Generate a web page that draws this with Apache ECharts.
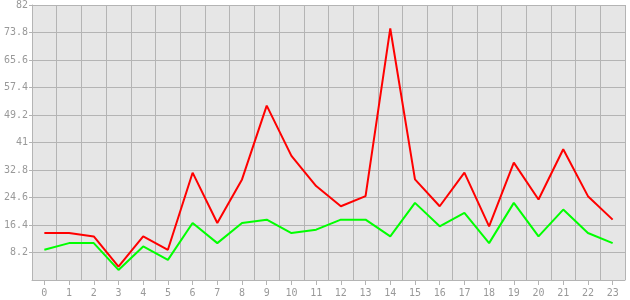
<!DOCTYPE html>
<html>
<head>
<meta charset="utf-8">
<script src="https://cdn.jsdelivr.net/npm/echarts@6/dist/echarts.min.js"></script>
<style>
html,body{margin:0;padding:0;background:#fff;}
#c{width:630px;height:300px;}
</style>
</head>
<body>
<div id="c"></div>
<script>
var categories = ['0','1','2','3','4','5','6','7','8','9','10','11','12','13','14','15','16','17','18','19','20','21','22','23'];
var redValues = [14,14,13,4,13,9,32,17,30,52,37,28,22,25,75,30,22,32,16,35,24,39,25,18];
var greenValues = [9,11,11,3,10,6,17,11,17,18,14,15,18,18,13,23,16,20,11,23,13,21,14,11];
var yMin = 0, yMax = 82, yStep = 8.2;

var chart = echarts.init(document.getElementById('c'), null, {renderer:'canvas'});
var labelStyle = {color:'#999999', fontFamily:'DejaVu Sans Mono', fontSize:10};
chart.setOption({
  animation:false,
  backgroundColor:'#ffffff',
  grid:{left:32, right:5, top:5, bottom:20, show:true, backgroundColor:'#e6e6e6', borderWidth:0},
  xAxis:{
    type:'category', data:categories, boundaryGap:true,
    axisLine:{show:true, lineStyle:{color:'#b4b4b4', width:1}},
    axisTick:{show:true, alignWithLabel:true, length:5, lineStyle:{color:'#b4b4b4'}},
    axisLabel:Object.assign({margin:8, interval:0}, labelStyle),
    splitLine:{show:true, interval:0, lineStyle:{color:'#b4b4b4', width:1}}
  },
  yAxis:{
    type:'value', min:yMin, max:yMax, interval:yStep,
    axisLine:{show:true, lineStyle:{color:'#b4b4b4', width:1}},
    axisTick:{show:true, length:3, lineStyle:{color:'#b4b4b4'}},
    axisLabel:Object.assign({margin:4, showMinLabel:false, formatter:function(v){return String(Math.round(v*10)/10);}}, labelStyle),
    splitLine:{show:true, lineStyle:{color:'#b4b4b4', width:1}}
  },
  series:[
    {type:'line', data:redValues, showSymbol:false, symbol:'none', lineStyle:{color:'#ff0000', width:2}, itemStyle:{color:'#ff0000'}},
    {type:'line', data:greenValues, showSymbol:false, symbol:'none', lineStyle:{color:'#00ff00', width:2}, itemStyle:{color:'#00ff00'}}
  ]
});
</script>
</body>
</html>
